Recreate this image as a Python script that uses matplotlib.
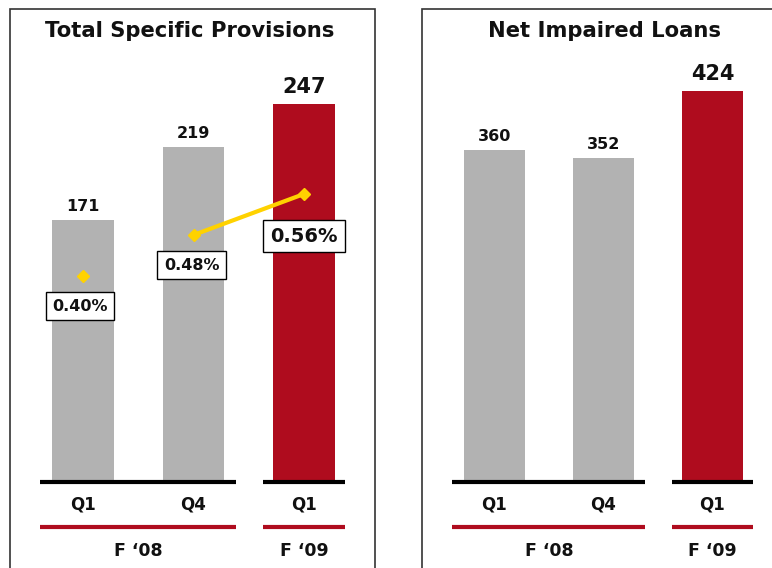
import matplotlib
matplotlib.use("Agg")
import matplotlib.pyplot as plt
from matplotlib.patches import Rectangle

plt.rcParams['font.family'] = ['DejaVu Sans']
plt.rcParams['font.weight'] = 'bold'

# ---- data ----
quarters = ["Q1", "Q4", "Q1"]
years = ["F \u201808", "F \u201809"]
provisions = [171, 219, 247]
provision_ratio = [0.40, 0.48, 0.56]  # percent
impaired = [360, 352, 424]
title_left = "Total Specific Provisions"
title_right = "Net Impaired Loans"

GRAY = "#B2B2B2"
RED = "#AF0C1E"
YELLOW = "#FFD200"

W, H = 772, 568
fig = plt.figure(figsize=(W / 100, H / 100), dpi=100)


def px_axes(x0, x1, y_top, y_bot):
    return fig.add_axes([x0 / W, 1 - y_bot / H, (x1 - x0) / W, (y_bot - y_top) / H])


# panel frames
fig.patches.append(Rectangle((10 / W, -0.01), (375 - 10) / W, 1.01 - 9 / H,
                             transform=fig.transFigure, fill=False, ec="#333333", lw=1.2))
fig.patches.append(Rectangle((422 / W, -0.01), 0.5, 1.01 - 9 / H,
                             transform=fig.transFigure, fill=False, ec="#333333", lw=1.2))


def panel(ax, values, ymax, big_idx, label_sizes):
    colors = [GRAY, GRAY, RED]
    xs = range(len(values))
    ax.bar(xs, values, width=0.56, color=colors, zorder=2)
    ax.set_xlim(-0.5, 2.5)
    ax.set_ylim(0, ymax)
    ax.axis("off")
    for i, v in enumerate(values):
        ax.annotate(str(v), (i, v), xytext=(0, 7 if i == big_idx else 6), textcoords="offset pixels",
                    ha="center", va="bottom", fontsize=label_sizes[i], fontweight="bold",
                    color="#111111")
    return ax


def bottom_axis(ax, scale):
    # y offsets in pixels below baseline converted to data units
    def d(p):
        return -p / scale
    kw = dict(clip_on=False, solid_capstyle="butt")
    ax.plot([-0.39, 1.385], [d(0.5), d(0.5)], color="black", lw=3, **kw)
    ax.plot([1.63, 2.37], [d(0.5), d(0.5)], color="black", lw=3, **kw)
    for i, q in enumerate(quarters):
        ax.text(i, d(24), q, ha="center", va="center", fontsize=12, fontweight="bold", color="#111111")
    ax.plot([-0.39, 1.385], [d(45.5), d(45.5)], color=RED, lw=3, **kw)
    ax.plot([1.63, 2.37], [d(45.5), d(45.5)], color=RED, lw=3, **kw)
    ax.text(0.5, d(70), years[0], ha="center", va="center", fontsize=12.5, fontweight="bold", color="#111111")
    ax.text(2, d(70), years[1], ha="center", va="center", fontsize=12.5, fontweight="bold", color="#111111")


# ---- left panel ----
unitL = (304 - 83) / 2
x0L = 83 - 0.5 * unitL
x1L = 304 + 0.5 * unitL
scaleL = 1.527
ymaxL = 300
axL = px_axes(x0L, x1L, 481 - ymaxL * scaleL, 481)
panel(axL, provisions, ymaxL, 2, [11.5, 11.5, 15])
bottom_axis(axL, scaleL)
fig.text(190 / W, 1 - 31 / H, title_left, ha="center", va="center", fontsize=15.2, fontweight="bold",
         color="#111111")

# ratio line on twin axis: 512.5 px per 1 %
axP = axL.twinx()
axP.set_ylim(0, ymaxL * scaleL / 512.5)
axP.axis("off")
axP.plot([1, 2], provision_ratio[1:], color=YELLOW, lw=3, zorder=3)
axP.plot(range(3), provision_ratio, ls="none", marker="D", ms=6.5, color=YELLOW, zorder=4)
offsets = [(-3, -30, 11.5, 0.4), (-2, -30, 11.5, 0.4), (0, -42, 14, 0.35)]
for i, r in enumerate(provision_ratio):
    dx, dy, fs, pad = offsets[i]
    axP.annotate(f"{r:.2f}%", (i, r), xytext=(dx, dy), textcoords="offset pixels",
                 ha="center", va="center", fontsize=fs, fontweight="bold", color="#111111",
                 bbox=dict(boxstyle=f"square,pad={pad}", fc="white", ec="black", lw=1), zorder=5)

# ---- right panel ----
unitR = (712.5 - 494.5) / 2
x0R = 494.5 - 0.5 * unitR
x1R = 712.5 + 0.5 * unitR
scaleR = 0.919
ymaxR = 500
axR = px_axes(x0R, x1R, 481 - ymaxR * scaleR, 481)
panel(axR, impaired, ymaxR, 2, [11.5, 11.5, 15])
bottom_axis(axR, scaleR)
fig.text(604 / W, 1 - 31 / H, title_right, ha="center", va="center", fontsize=15.2, fontweight="bold",
         color="#111111")

fig.savefig("out.png", dpi=100)
